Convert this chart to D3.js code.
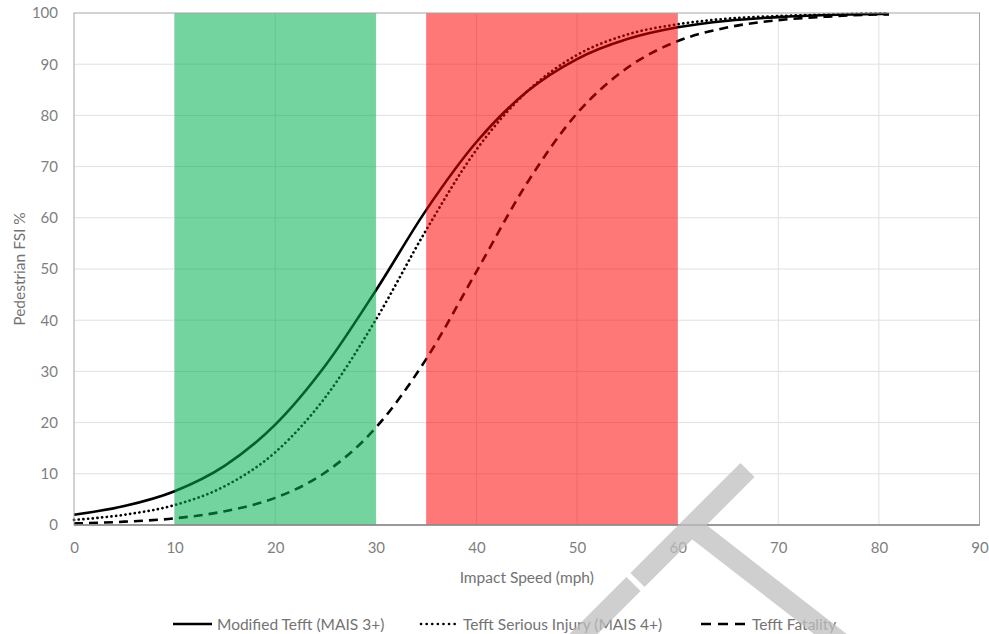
<!DOCTYPE html>
<html>
<head>
<meta charset="utf-8">
<script src="https://cdn.jsdelivr.net/npm/d3@7"></script>
<style>
  html, body { margin: 0; padding: 0; background: #fff; }
  svg { display: block; font-family: Lato, "Liberation Sans", sans-serif; }
</style>
</head>
<body>
<svg id="chart" width="989" height="634"></svg>
<script>
// ---- data ----
const speeds = [0, 5, 10, 15, 20, 25, 30, 35, 40, 45, 50, 55, 60, 65, 70, 75, 80, 81];
const modifiedTefft = [2.0, 3.7, 6.6, 11.6, 19.6, 31.2, 45.8, 61.5, 74.8, 84.6, 91.0, 94.9, 97.2, 98.5, 99.2, 99.6, 99.8, 99.8];
const seriousInjury = [1.0, 2.0, 3.9, 7.6, 14.2, 25.0, 40.1, 57.6, 73.3, 84.6, 91.8, 95.8, 97.8, 98.9, 99.4, 99.7, 99.9, 99.9];
const fatality      = [0.3, 0.65, 1.3, 2.7, 5.3, 10.3, 19.0, 32.4, 49.5, 66.7, 80.4, 89.3, 94.5, 97.2, 98.6, 99.3, 99.7, 99.7];
const seriesNames = ["Modified Tefft (MAIS 3+)", "Tefft Serious Injury (MAIS 4+)", "Tefft Fatality"];
const xTicks = [0, 10, 20, 30, 40, 50, 60, 70, 80, 90];
const yTicks = [0, 10, 20, 30, 40, 50, 60, 70, 80, 90, 100];
const greenBand = [10, 30];
const redBand = [35, 60];

// ---- layout ----
const svg = d3.select("#chart");
const margin = { left: 74, right: 9.5, top: 13, bottom: 109 };
const W = 989, H = 634;
const x = d3.scaleLinear().domain([0, 90]).range([margin.left, W - margin.right]);
const y = d3.scaleLinear().domain([0, 100]).range([H - margin.bottom, margin.top]);

const tickColor = "#7f7f7f";
const textColor = "#737373";
const gridColor = "#e0e0e0";

// gridlines
svg.append("g").selectAll("line").data(yTicks.filter(d => d > 0 && d < 100)).join("line")
  .attr("x1", x(0)).attr("x2", x(90)).attr("y1", d => y(d)).attr("y2", d => y(d))
  .attr("stroke", gridColor).attr("stroke-width", 1);
svg.append("g").selectAll("line").data(xTicks.filter(d => d > 0 && d < 90)).join("line")
  .attr("y1", y(0)).attr("y2", y(100)).attr("x1", d => x(d)).attr("x2", d => x(d))
  .attr("stroke", gridColor).attr("stroke-width", 1);

// series lines
const lineGen = d3.line().x((d, i) => x(speeds[i])).y(d => y(d)).curve(d3.curveMonotoneX);
const styles = [
  { data: modifiedTefft, dash: null, width: 2.6, cap: "butt" },
  { data: seriousInjury, dash: "0.1,4.6", width: 2.7, cap: "round" },
  { data: fatality, dash: "9,6", width: 2.6, cap: "butt" }
];
styles.forEach(s => {
  svg.append("path").attr("d", lineGen(s.data))
    .attr("fill", "none").attr("stroke", "#000")
    .attr("stroke-width", s.width)
    .attr("stroke-linecap", s.cap)
    .attr("stroke-dasharray", s.dash);
});

// shaded speed bands (semi-transparent, over the lines)
svg.append("rect")
  .attr("x", x(greenBand[0])).attr("width", x(greenBand[1]) - x(greenBand[0]))
  .attr("y", y(100)).attr("height", y(0) - y(100))
  .attr("fill", "#00b050").attr("fill-opacity", 0.55);
svg.append("rect")
  .attr("x", x(redBand[0])).attr("width", x(redBand[1]) - x(redBand[0]))
  .attr("y", y(100)).attr("height", y(0) - y(100))
  .attr("fill", "#ff0000").attr("fill-opacity", 0.53);

// frame
svg.append("rect").attr("x", x(0)).attr("y", y(100))
  .attr("width", x(90) - x(0)).attr("height", y(0) - y(100))
  .attr("fill", "none").attr("stroke", "#a6a6a6").attr("stroke-width", 1);
svg.append("line").attr("x1", x(0)).attr("x2", x(90)).attr("y1", y(0)).attr("y2", y(0))
  .attr("stroke", "#868686").attr("stroke-width", 1.3);

// axes with d3 axis generators (no tick marks, no domain)
const xAxis = svg.append("g").attr("transform", `translate(0,${y(0)})`)
  .call(d3.axisBottom(x).tickValues(xTicks).tickSize(0).tickPadding(17));
xAxis.select(".domain").remove();
xAxis.selectAll("text").attr("fill", tickColor).style("font-size", "15px").style("font-family", "Lato, sans-serif");

const yAxis = svg.append("g").attr("transform", `translate(${x(0)},0)`)
  .call(d3.axisLeft(y).tickValues(yTicks).tickSize(0).tickPadding(16));
yAxis.select(".domain").remove();
yAxis.selectAll("text").attr("fill", tickColor).style("font-size", "15px").style("font-family", "Lato, sans-serif");

// axis titles
svg.append("text").attr("x", (x(0) + x(90)) / 2).attr("y", 583)
  .attr("text-anchor", "middle").attr("fill", textColor).style("font-size", "15.5px")
  .text("Impact Speed (mph)");
svg.append("text").attr("transform", `translate(25,${(y(0) + y(100)) / 2}) rotate(-90)`)
  .attr("text-anchor", "middle").attr("fill", textColor).style("font-size", "15.5px")
  .text("Pedestrian FSI %");

// legend
const legendItems = [
  { name: seriesNames[0], x0: 173, x1: 212, tx: 217, dash: null, cap: "butt" },
  { name: seriesNames[1], x0: 421, x1: 457, tx: 463, dash: "0.1,5.5", cap: "round" },
  { name: seriesNames[2], x0: 701, x1: 745, tx: 752, dash: "10,7", cap: "butt" }
];
const leg = svg.append("g");
legendItems.forEach(it => {
  leg.append("line").attr("x1", it.x0).attr("x2", it.x1).attr("y1", 624).attr("y2", 624)
    .attr("stroke", "#000").attr("stroke-width", 2.6)
    .attr("stroke-linecap", it.cap).attr("stroke-dasharray", it.dash);
  leg.append("text").attr("x", it.tx).attr("y", 629.5).attr("fill", textColor)
    .style("font-size", "15.5px").text(it.name);
});

// grey watermark strokes overlaying the lower right (composited once)
const wm = svg.append("g").attr("opacity", 0.75).attr("stroke", "rgb(191,191,191)")
  .attr("stroke-width", 20).attr("stroke-linecap", "butt").attr("fill", "none");
wm.append("line").attr("x1", 747.5).attr("y1", 470).attr("x2", 637.5).attr("y2", 580);
wm.append("line").attr("x1", 633.5).attr("y1", 584).attr("x2", 570).attr("y2", 647.5);
wm.append("line").attr("x1", 694).attr("y1", 528).attr("x2", 860).attr("y2", 657);
</script>
</body>
</html>
